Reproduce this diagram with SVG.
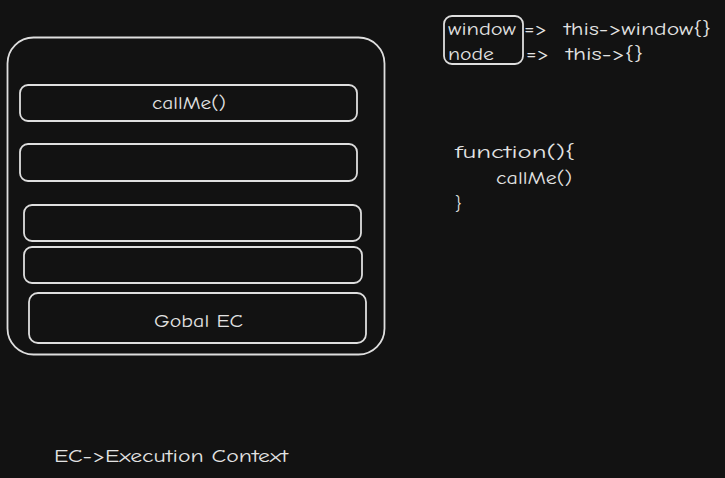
<svg xmlns="http://www.w3.org/2000/svg" width="725" height="478" viewBox="0 0 725 478">
<style>
.b{fill:none;stroke:#dedede;stroke-width:1.8;stroke-linecap:round}
.t{fill:#e3e3e3;font-family:"Comic Neue","Liberation Sans","DejaVu Sans",sans-serif;font-size:18px}
</style>
<rect width="725" height="478" fill="#121212"/>
<g id="stack">
<rect class="b" x="7.5" y="37.5" width="377" height="317" rx="26"/>
</g>
<g id="callme-ec">
<rect class="b" x="20" y="85" width="337" height="36" rx="8"/>
<text class="t" x="152" y="109" textLength="74" lengthAdjust="spacingAndGlyphs">callMe()</text>
</g>
<g id="ec2"><rect class="b" x="20" y="144" width="337" height="37" rx="8"/></g>
<g id="ec3"><rect class="b" x="24" y="205" width="337" height="36" rx="8"/></g>
<g id="ec4"><rect class="b" x="24" y="247" width="338" height="36" rx="8"/></g>
<g id="global-ec">
<rect class="b" x="29" y="293" width="337" height="50" rx="9"/>
<text class="t" x="154" y="327" textLength="89" lengthAdjust="spacingAndGlyphs">Gobal EC</text>
</g>
<g id="env">
<rect class="b" x="444" y="16" width="79" height="48" rx="8"/>
<text class="t" x="448" y="35" textLength="68" lengthAdjust="spacingAndGlyphs">window</text>
<text class="t" x="524" y="35" textLength="23" lengthAdjust="spacingAndGlyphs">=&gt;</text>
<text class="t" x="564" y="35" textLength="147" lengthAdjust="spacingAndGlyphs">this-&gt;window{}</text>
<text class="t" x="448" y="60" textLength="46" lengthAdjust="spacingAndGlyphs">node</text>
<text class="t" x="526" y="60" textLength="23" lengthAdjust="spacingAndGlyphs">=&gt;</text>
<text class="t" x="566" y="60" textLength="77" lengthAdjust="spacingAndGlyphs">this-&gt;{}</text>
</g>
<g id="code">
<text class="t" x="455" y="158" textLength="120" lengthAdjust="spacingAndGlyphs">function(){</text>
<text class="t" x="496" y="184" textLength="76" lengthAdjust="spacingAndGlyphs">callMe()</text>
<text class="t" x="455" y="210">}</text>
</g>
<g id="legend">
<text class="t" x="54" y="462" textLength="234" lengthAdjust="spacingAndGlyphs">EC-&gt;Execution Context</text>
</g>
<g id="connectors"></g>
</svg>
